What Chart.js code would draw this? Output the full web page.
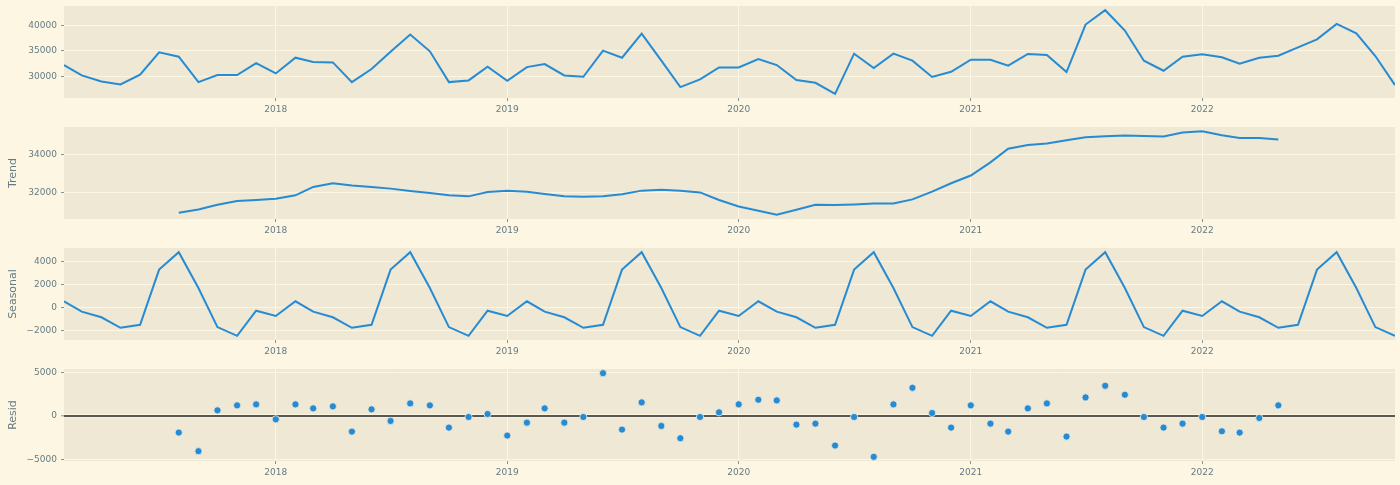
<!DOCTYPE html>
<html><head><meta charset="utf-8">
<script src="https://cdn.jsdelivr.net/npm/chart.js@4.4.0/dist/chart.umd.min.js"></script>
<style>
html,body{margin:0;padding:0;background:#fdf6e3;}
body{width:1400px;height:485px;position:relative;overflow:hidden;}
canvas{position:absolute;left:0;display:block;}
</style></head><body>
<canvas id="c0"></canvas><canvas id="c1"></canvas><canvas id="c2"></canvas><canvas id="c3"></canvas>
<script>
const months = [
"2017-02","2017-03","2017-04","2017-05","2017-06","2017-07","2017-08","2017-09","2017-10","2017-11","2017-12",
"2018-01","2018-02","2018-03","2018-04","2018-05","2018-06","2018-07","2018-08","2018-09","2018-10","2018-11","2018-12",
"2019-01","2019-02","2019-03","2019-04","2019-05","2019-06","2019-07","2019-08","2019-09","2019-10","2019-11","2019-12",
"2020-01","2020-02","2020-03","2020-04","2020-05","2020-06","2020-07","2020-08","2020-09","2020-10","2020-11","2020-12",
"2021-01","2021-02","2021-03","2021-04","2021-05","2021-06","2021-07","2021-08","2021-09","2021-10","2021-11","2021-12",
"2022-01","2022-02","2022-03","2022-04","2022-05","2022-06","2022-07","2022-08","2022-09","2022-10","2022-11"];

const observed = [
32270,30260,29090,28500,30390,34740,33900,28960,30320,30320,32660,
30650,33700,32860,32790,28960,31490,34870,38180,34940,28960,29290,31950,
29220,31880,32470,30260,30000,35060,33700,38380,33120,27990,29480,31820,
31820,33440,32270,29350,28830,26690,34480,31690,34480,33120,29950,30970,
33310,33310,32140,34420,34220,30910,40130,42920,38960,33120,31170,33900,
34350,33770,32530,33700,34090,35710,37270,40260,38440,34030,28380];

const trend = [
null,null,null,null,null,null,30974,31148,31390,31583,31635,
31704,31878,32313,32504,32383,32313,32226,32104,32000,31878,31826,32052,
32122,32070,31948,31826,31809,31826,31930,32122,32174,32122,32030,31635,
31304,31078,30870,31130,31391,31374,31409,31461,31461,31670,32070,32504,
32904,33583,34296,34487,34557,34730,34887,34939,34974,34957,34922,35130,
35200,34991,34852,34852,34765,null,null,null,null,null,null];

const seasonal = [
540,-360,-850,-1760,-1500,3300,4810,1700,-1700,-2460,-280,
-740,540,-360,-850,-1760,-1500,3300,4810,1700,-1700,-2460,-280,
-740,540,-360,-850,-1760,-1500,3300,4810,1700,-1700,-2460,-280,
-740,540,-360,-850,-1760,-1500,3300,4810,1700,-1700,-2460,-280,
-740,540,-360,-850,-1760,-1500,3300,4810,1700,-1700,-2460,-280,
-740,540,-360,-850,-1760,-1500,3300,4810,1700,-1700,-2460];

const resid = [
null,null,null,null,null,null,-1894,-4015,644,1212,1326,
-379,1326,871,1098,-1780,758,-568,1439,1212,-1326,-114,227,
-2235,-758,871,-758,-114,4886,-1553,1553,-1136,-2538,-114,417,
1326,1856,1780,-985,-871,-3371,-114,-4659,1326,3220,341,-1326,
1212,-871,-1780,871,1439,-2348,2121,3447,2424,-114,-1326,-871,
-114,-1742,-1894,-227,1212,null,null,null,null,null,null];

const yearTicks = [2018, 2019, 2020, 2021, 2022];
const observedTicks = [30000, 35000, 40000];
const trendTicks = [32000, 34000];
const seasonalTicks = [-2000, 0, 2000, 4000];
const residTicks = [-5000, 0, 5000];

const BG = '#fdf6e3', AX = '#eee8d5', TXT = '#657b83', BLUE = '#268BD2';
const FONT = 'DejaVu Sans';
const toDay = s => { const [y, m] = s.split('-').map(Number); return Date.UTC(y, m - 1, 1) / 864e5; };
const xs = months.map(toDay);
const xMin = xs[0], xMax = xs[xs.length - 1];
const pts = vals => vals.map((v, i) => ({x: xs[i], y: v})).filter(p => p.y !== null);
const limits = vals => {
  const v = vals.filter(a => a !== null);
  const mn = Math.min(...v), mx = Math.max(...v), r = mx - mn;
  return [mn - 0.05 * r, mx + 0.05 * r];
};
const fmt = v => String(v).replace('-', '\u2212');

const bgPlugin = {
  id: 'axbg',
  beforeDraw(chart) {
    const {ctx, chartArea: a} = chart;
    ctx.save();
    ctx.fillStyle = BG; ctx.fillRect(0, 0, chart.width, chart.height);
    ctx.fillStyle = AX; ctx.fillRect(a.left, a.top, a.right - a.left, a.bottom - a.top);
    ctx.restore();
  }
};

const PAD_TOP = 10, PANEL_H = 92, XAX_H = 20;
const panels = [
  {top: 6,   vals: observed, ticks: observedTicks, title: '',         kind: 'line'},
  {top: 127, vals: trend,    ticks: trendTicks,    title: 'Trend',    kind: 'line'},
  {top: 248, vals: seasonal, ticks: seasonalTicks, title: 'Seasonal', kind: 'line'},
  {top: 369, vals: resid,    ticks: residTicks,    title: 'Resid',    kind: 'scatter'}
];

panels.forEach((p, k) => {
  const cv = document.getElementById('c' + k);
  cv.width = 1400; cv.height = PAD_TOP + PANEL_H + XAX_H;
  cv.style.top = (p.top - PAD_TOP) + 'px';
  const [ymin, ymax] = limits(p.vals);
  const datasets = [];
  if (p.kind === 'line') {
    datasets.push({type: 'line', data: pts(p.vals), borderColor: BLUE, borderWidth: 2,
      pointRadius: 0, fill: false, tension: 0, spanGaps: false});
  } else {
    datasets.push({type: 'scatter', data: pts(p.vals), backgroundColor: BLUE,
      borderColor: '#f4efe0', borderWidth: 0.8, pointRadius: 3.6, order: 0});
    datasets.push({type: 'line', data: [{x: xMin, y: 0}, {x: xMax, y: 0}], borderColor: '#222222',
      borderWidth: 1.7, pointRadius: 0, fill: false, order: 1});
  }
  new Chart(cv, {
    data: {datasets},
    plugins: [bgPlugin],
    options: {
      responsive: false, animation: false, devicePixelRatio: 1,
      layout: {padding: {top: PAD_TOP, left: 0, right: 5, bottom: 0}},
      plugins: {legend: {display: false}, tooltip: {enabled: false}},
      scales: {
        x: {
          type: 'linear', min: xMin, max: xMax,
          afterFit: s => { s.height = XAX_H; },
          afterBuildTicks: s => { s.ticks = yearTicks.map(y => ({value: Date.UTC(y, 0, 1) / 864e5})); },
          ticks: {autoSkip: false, maxRotation: 0, padding: 3, color: TXT,
            font: {family: FONT, size: 9},
            callback: (v) => String(new Date(v * 864e5).getUTCFullYear())},
          grid: {color: BG, lineWidth: 1, drawTicks: true, tickLength: 3, tickColor: TXT, tickWidth: 0.8},
          border: {display: false}
        },
        y: {
          type: 'linear', min: ymin, max: ymax,
          afterFit: s => { s.width = 64; },
          afterBuildTicks: s => { s.ticks = p.ticks.map(v => ({value: v})); },
          ticks: {autoSkip: false, padding: 4, color: TXT, font: {family: FONT, size: 9},
            callback: v => fmt(v)},
          grid: {color: BG, lineWidth: c => (p.kind === 'scatter' && c.tick && c.tick.value === 0) ? 3.6 : 1,
            drawTicks: true, tickLength: 3, tickColor: TXT, tickWidth: 0.8},
          border: {display: false},
          title: {display: !!p.title, text: p.title, color: TXT,
            font: {family: FONT, size: 11}, padding: {top: 7, bottom: 0}}
        }
      }
    }
  });
});
</script>
</body></html>
